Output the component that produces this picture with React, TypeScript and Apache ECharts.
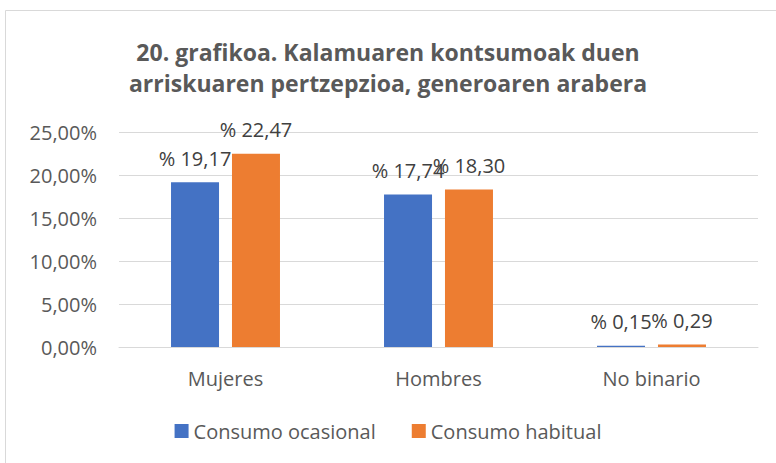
import React, { useEffect, useRef } from "react";
import * as echarts from "echarts";

const categories = ["Mujeres", "Hombres", "No binario"];
const ocasional = [19.17, 17.74, 0.15];
const habitual = [22.47, 18.3, 0.29];
const seriesNames = ["Consumo ocasional", "Consumo habitual"];
const titleLines = ["20. grafikoa. Kalamuaren kontsumoak duen", "arriskuaren pertzepzioa, generoaren arabera"];

const FONT = "'Open Sans', 'Noto Sans', sans-serif";

export default function App() {
  const ref = useRef<HTMLDivElement>(null);
  useEffect(() => {
    if (!ref.current) return;
    const chart = echarts.init(ref.current, null, { renderer: "svg" });
    const fmt = (v: number) => v.toFixed(2).replace(".", ",");
    const label = {
      show: true,
      position: "top" as const,
      distance: 14,
      color: "#404040",
      fontSize: 20,
      fontFamily: FONT,
      formatter: (p: any) => "% " + fmt(p.value),
    };
    chart.setOption({
      animation: false,
      textStyle: { fontFamily: FONT },
      graphic: [
        {
          type: "rect",
          shape: { x: 5.5, y: 10.5, width: 800, height: 500 },
          style: { fill: "none", stroke: "#d9d9d9", lineWidth: 1 },
          silent: true,
        },
      ],
      title: {
        text: titleLines.join("\n"),
        left: "center",
        top: 31,
        textStyle: {
          fontFamily: FONT,
          fontSize: 23,
          fontWeight: "bold",
          color: "#595959",
          lineHeight: 31,
        },
      },
      legend: {
        bottom: 17,
        left: "center",
        itemWidth: 14,
        itemHeight: 14,
        itemGap: 36,
        icon: "rect",
        textStyle: { fontSize: 20, color: "#595959", fontFamily: FONT },
        data: seriesNames,
      },
      grid: { left: 119, right: 18, top: 132, bottom: 116 },
      xAxis: {
        type: "category",
        data: categories,
        axisLine: { lineStyle: { color: "#d9d9d9" } },
        axisTick: { show: false },
        axisLabel: { color: "#595959", fontSize: 20, margin: 21, fontFamily: FONT },
      },
      yAxis: {
        type: "value",
        min: 0,
        max: 25,
        interval: 5,
        axisLine: { show: false },
        axisTick: { show: false },
        splitLine: { lineStyle: { color: "#d9d9d9", width: 1 } },
        axisLabel: {
          color: "#595959",
          fontSize: 20,
          margin: 22,
          fontFamily: FONT,
          formatter: (v: number) => fmt(v) + "%",
        },
      },
      series: [
        {
          name: seriesNames[0],
          type: "bar",
          data: ocasional,
          barWidth: 48,
          barGap: "27%",
          itemStyle: { color: "#4472c4" },
          label,
        },
        {
          name: seriesNames[1],
          type: "bar",
          data: habitual,
          barWidth: 48,
          itemStyle: { color: "#ed7d31" },
          label,
        },
      ],
    });
    return () => chart.dispose();
  }, []);
  return (
    <div
      ref={ref}
      style={{ position: "fixed", left: 0, top: 0, width: 776, height: 463, background: "#fff" }}
    />
  );
}
